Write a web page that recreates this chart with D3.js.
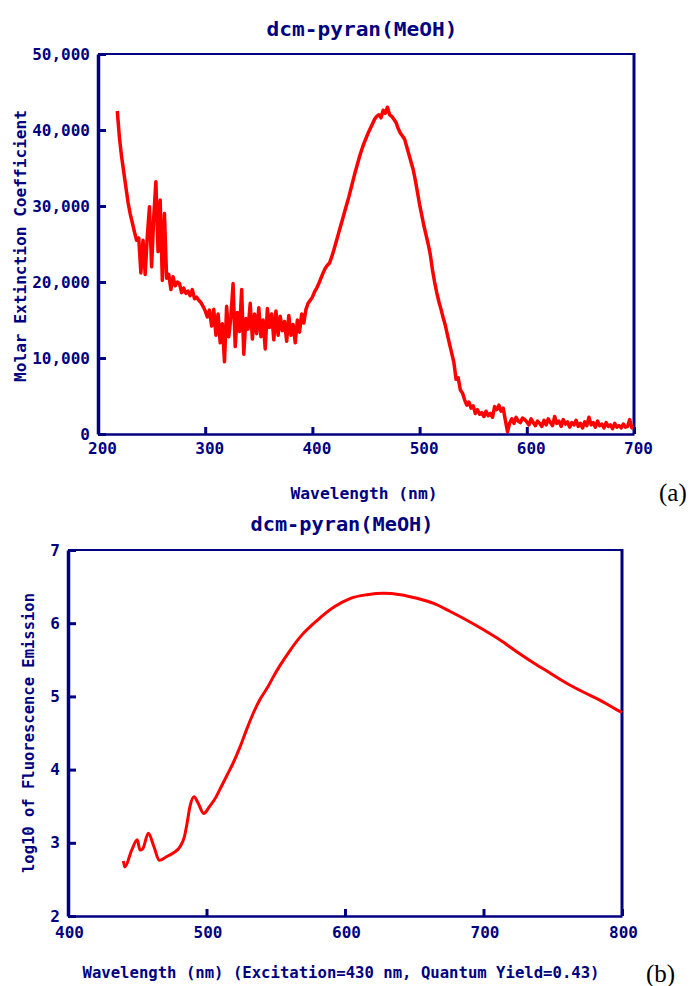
<!DOCTYPE html>
<html>
<head>
<meta charset="utf-8">
<script src="https://cdn.jsdelivr.net/npm/d3@7"></script>
<style>
  body { margin: 0; background: #fff; }
  svg text { font-family: "DejaVu Sans Mono", monospace; font-weight: bold; fill: #000080; }
  svg text.panel-tag { font-family: "Liberation Serif", serif; font-weight: normal; fill: #000; }
</style>
</head>
<body>
<svg id="fig" width="695" height="986"></svg>
<script>
// (a) absorption spectrum, one reading every 2 nm starting at 218 nm
var absStart = 218, absStep = 2;
var absorbance = [
  42500, 39000, 36500, 34500, 32500, 30500, 29000, 27800, 26600, 25500,
  25800, 21200, 25500, 21000, 26000, 29900, 22000, 28500, 33200, 24000,
  30800, 20200, 29000, 20500, 21000, 19000, 20700, 19500, 20000, 19800,
  18600, 19200, 18500, 18800, 18200, 19000, 17800, 18000, 17600, 17300,
  16800, 16200, 15400, 16300, 14200, 16400, 13000, 15800, 12000, 14500,
  9500, 16800, 12800, 15500, 19800, 11500, 16000, 13500, 19000, 10500,
  15200, 13800, 17200, 12500, 15800, 13200, 16600, 12800, 15000, 11200,
  16500, 14000, 15800, 12400, 16200, 13000, 15500, 13600, 14800, 12200,
  15600, 13000, 14400, 12000, 15000, 13400, 15800, 14600, 16400, 17200,
  17600, 18000, 18700, 19200, 19800, 20500, 21200, 21800, 22200, 22500,
  23300, 24200, 25200, 26200, 27200, 28200, 29200, 30200, 31200, 32300,
  33400, 34500, 35500, 36500, 37400, 38200, 38900, 39600, 40200, 40800,
  41400, 41800, 42000, 41600, 42600, 42200, 43000, 42000, 41800, 41400,
  41000, 40200, 39600, 39200, 38800, 37800, 36800, 35800, 34800, 33400,
  31800, 30200, 28800, 27400, 26200, 25000, 23600, 21600, 20000, 18600,
  17400, 16400, 15300, 14300, 13000, 11800, 10600, 9400, 7200, 7400,
  5800, 5400, 4500, 3800, 4200, 3400, 3700, 2700, 3200, 2600,
  2800, 2300, 3000, 2400, 2700, 2200, 3600, 3200, 3800, 3000,
  3400, 1800, 300, 1400, 2000, 1400, 2200, 1700, 1500, 2100,
  1900, 1600, 1200, 2000, 1500, 1100, 1700, 1400, 1000, 1800,
  1200, 2000, 1500, 1100, 2300, 1400, 1700, 1000, 1900, 1300,
  1600, 900, 1500, 1200, 1800, 1000, 1400, 800, 1600, 1100,
  2200, 1200, 1500, 900, 1700, 1100, 1300, 800, 1500, 1000,
  1200, 700, 1400, 900, 1100, 800, 1300, 900, 1000, 1900,
  800, 1000
];
var absXTicks = [200, 300, 400, 500, 600, 700];
var absYTicks = [0, 10000, 20000, 30000, 40000, 50000];

// (b) emission spectrum
var emWavelength = [440, 441, 446, 450, 452, 454, 458, 462, 466, 471, 476, 481, 484, 486, 488, 491, 494, 498, 502, 507,
  511, 515, 519, 524, 529, 534, 539, 544, 548, 553, 560, 568, 580, 592, 604, 616, 628, 640, 652, 664, 676,
  688, 700, 712, 724, 736, 748, 760, 772, 784, 796, 800];
var emLog = [2.75, 2.67, 2.90, 3.04, 2.90, 2.92, 3.13, 2.95, 2.76, 2.81, 2.86, 2.95, 3.08, 3.27, 3.49, 3.63, 3.54, 3.40, 3.49, 3.63,
  3.78, 3.93, 4.08, 4.30, 4.55, 4.78, 4.97, 5.12, 5.26, 5.42, 5.62, 5.82, 6.04, 6.22, 6.34, 6.39, 6.41, 6.39, 6.34, 6.27, 6.16,
  6.04, 5.91, 5.77, 5.61, 5.46, 5.32, 5.18, 5.06, 4.95, 4.82, 4.78];
var emXTicks = [400, 500, 600, 700, 800];
var emYTicks = [2, 3, 4, 5, 6, 7];

var navy = "#000080";
var svg = d3.select("#fig");

function panel(o) {
  var x = d3.scaleLinear().domain(o.xDomain).range([o.left, o.right]);
  var y = d3.scaleLinear().domain(o.yDomain).range([o.bottom, o.top]);
  var g = svg.append("g");

  // frame: top and right edges
  g.append("line").attr("x1", o.left).attr("x2", o.right).attr("y1", o.top).attr("y2", o.top)
    .attr("stroke", navy).attr("stroke-width", 2);
  g.append("line").attr("x1", o.right).attr("x2", o.right).attr("y1", o.top - 1).attr("y2", o.bottom)
    .attr("stroke", navy).attr("stroke-width", 3);

  var line = d3.line().x(function (d) { return x(d[0]); }).y(function (d) { return y(d[1]); });
  if (o.curve) line.curve(o.curve);
  g.append("path").datum(o.data)
    .attr("fill", "none").attr("stroke", "#ff0000").attr("stroke-width", o.lineWidth)
    .attr("stroke-linejoin", "round").attr("d", line);

  var gx = g.append("g").attr("transform", "translate(0," + o.bottom + ")")
    .call(d3.axisBottom(x).tickValues(o.xTicks).tickSizeInner(-7).tickSizeOuter(0).tickPadding(o.xPad));
  var gy = g.append("g").attr("transform", "translate(" + o.left + ",0)")
    .call(d3.axisLeft(y).tickValues(o.yTicks).tickSizeInner(-8).tickSizeOuter(0).tickPadding(8).tickFormat(o.yFormat));

  [gx, gy].forEach(function (a) {
    a.attr("font-family", null).attr("font-size", 16);
    a.selectAll(".tick line").attr("stroke", navy).attr("stroke-width", 3);
    a.selectAll(".tick text").attr("fill", navy);
  });
  gx.select(".domain").attr("stroke", navy).attr("stroke-width", 2.5);
  gy.select(".domain").attr("stroke", navy).attr("stroke-width", 3.5);
  gx.selectAll(".tick text").attr("dx", o.xLabelShift);

  g.append("text").attr("x", o.titleX).attr("y", o.titleY).attr("text-anchor", "middle")
    .attr("font-size", 20).attr("textLength", o.titleLen).attr("lengthAdjust", "spacingAndGlyphs")
    .text(o.title);
  g.append("text").attr("x", o.xLabelX).attr("y", o.xLabelY).attr("text-anchor", "middle")
    .attr("font-size", 16).attr("textLength", o.xLabelLen).attr("lengthAdjust", "spacingAndGlyphs")
    .text(o.xLabel);
  g.append("text").attr("transform", "translate(" + o.yLabelX + "," + o.yLabelY + ") rotate(-90)")
    .attr("text-anchor", "middle").attr("dy", "0.35em")
    .attr("font-size", 16).attr("textLength", o.yLabelLen).attr("lengthAdjust", "spacingAndGlyphs")
    .text(o.yLabel);
  g.append("text").attr("class", "panel-tag").attr("x", o.tagX).attr("y", o.tagY)
    .attr("font-size", 25).text(o.tag);
}

panel({
  data: absorbance.map(function (v, i) { return [absStart + i * absStep, v]; }),
  xDomain: [200, 700], yDomain: [0, 50000],
  left: 98, right: 634, top: 54, bottom: 434,
  xTicks: absXTicks, yTicks: absYTicks, yFormat: d3.format(","),
  xLabelShift: 4, xPad: 9, lineWidth: 3.5,
  title: "dcm-pyran(MeOH)", titleX: 362, titleY: 36, titleLen: 191,
  xLabel: "Wavelength (nm)", xLabelX: 364, xLabelY: 499, xLabelLen: 147,
  yLabel: "Molar Extinction Coefficient", yLabelX: 20, yLabelY: 246, yLabelLen: 272,
  tag: "(a)", tagX: 659, tagY: 501
});

panel({
  data: emWavelength.map(function (w, i) { return [w, emLog[i]]; }),
  xDomain: [400, 800], yDomain: [2, 7],
  left: 68, right: 622, top: 550, bottom: 916,
  xTicks: emXTicks, yTicks: emYTicks, yFormat: d3.format("d"),
  xLabelShift: 1, xPad: 11, lineWidth: 3, curve: d3.curveMonotoneX,
  title: "dcm-pyran(MeOH)", titleX: 342, titleY: 531, titleLen: 183,
  xLabel: "Wavelength (nm) (Excitation=430 nm, Quantum Yield=0.43)", xLabelX: 341, xLabelY: 978, xLabelLen: 517,
  yLabel: "log10 of Fluorescence Emission", yLabelX: 28, yLabelY: 733, yLabelLen: 280,
  tag: "(b)", tagX: 646, tagY: 982
});
</script>
</body>
</html>
